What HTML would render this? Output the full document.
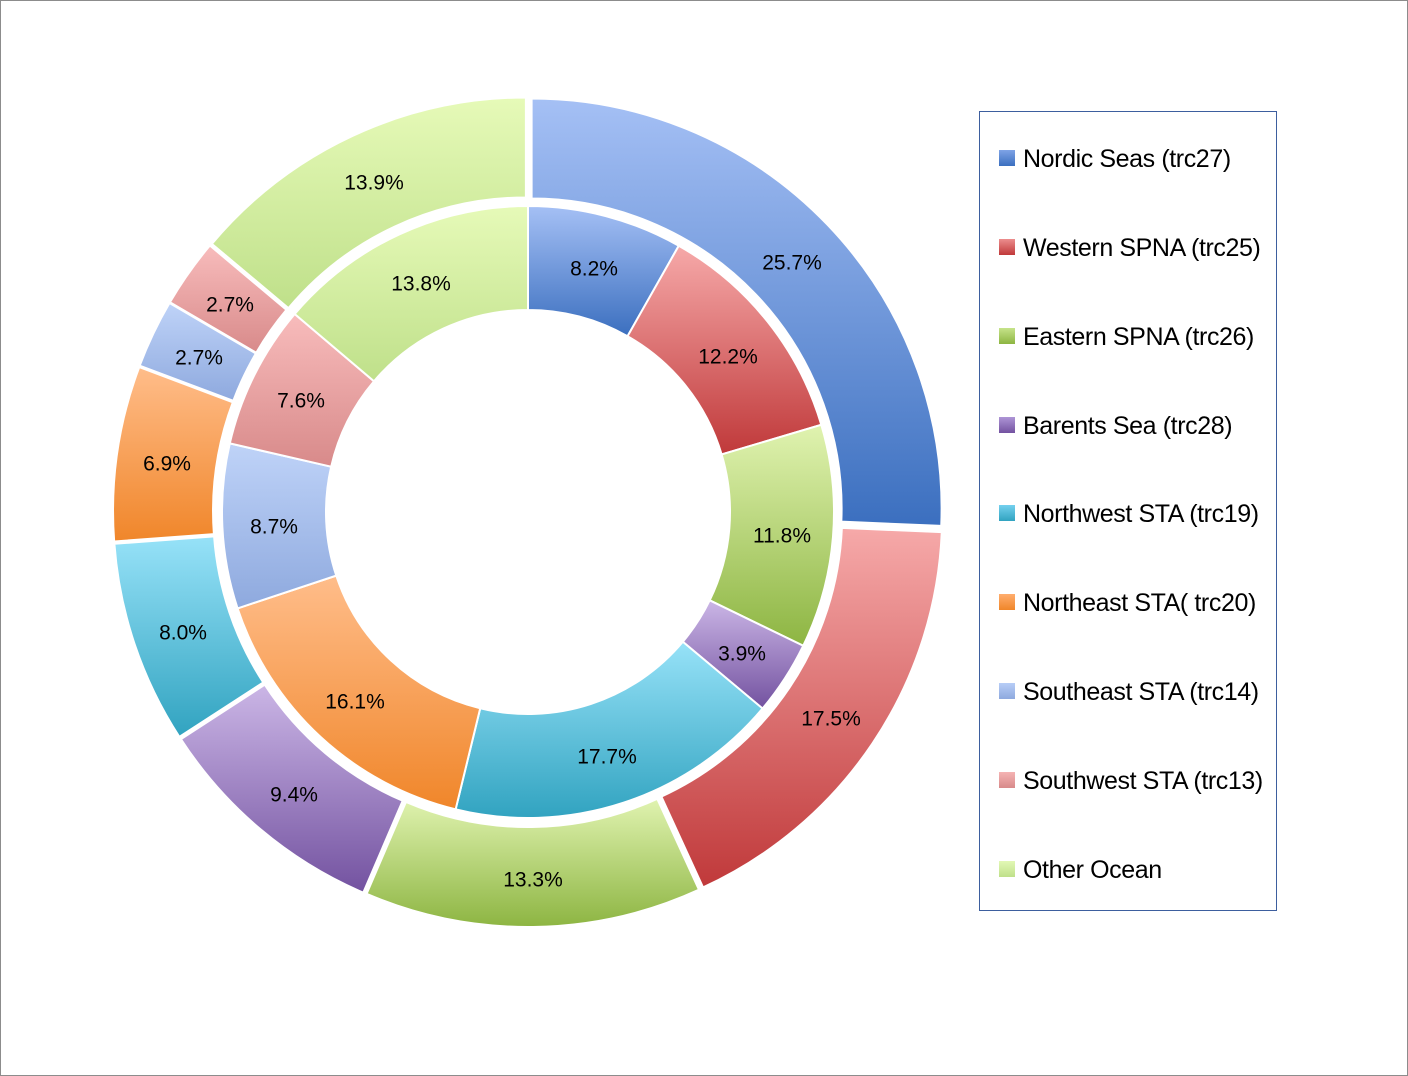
<!DOCTYPE html>
<html><head><meta charset="utf-8"><style>
html,body{margin:0;padding:0;background:#fff}
#wrap{position:relative;width:1406px;height:1074px;border:1px solid #8c8c8c;overflow:hidden}
svg{position:absolute;left:0;top:0}
.lbl{font-family:"Liberation Sans",sans-serif;font-size:21px;fill:#000;text-anchor:middle;dominant-baseline:central}
#legend{position:absolute;left:978px;top:110px;width:298px;height:800px;border:1.5px solid #3d5e9e;box-sizing:border-box}
.li{position:absolute;left:19px;font-family:"Liberation Sans",sans-serif;font-size:25px;letter-spacing:-0.4px;color:#000;white-space:nowrap;line-height:30px}
.li i{display:inline-block;width:16px;height:16px;margin-right:8px;vertical-align:1px}
</style></head><body><div id="wrap">
<svg id="s" width="1408" height="1076" viewBox="0 0 1408 1076">
<defs id="d"></defs>
<g id="g"></g>
<g>
<text class="lbl" x="593" y="268">8.2%</text>
<text class="lbl" x="727" y="356">12.2%</text>
<text class="lbl" x="781" y="535">11.8%</text>
<text class="lbl" x="741" y="653">3.9%</text>
<text class="lbl" x="606" y="756">17.7%</text>
<text class="lbl" x="354" y="701">16.1%</text>
<text class="lbl" x="273" y="526">8.7%</text>
<text class="lbl" x="300" y="400">7.6%</text>
<text class="lbl" x="420" y="283">13.8%</text>
<text class="lbl" x="791" y="262">25.7%</text>
<text class="lbl" x="830" y="718">17.5%</text>
<text class="lbl" x="532" y="879">13.3%</text>
<text class="lbl" x="293" y="794">9.4%</text>
<text class="lbl" x="182" y="632">8.0%</text>
<text class="lbl" x="166" y="463">6.9%</text>
<text class="lbl" x="198" y="357">2.7%</text>
<text class="lbl" x="229" y="304">2.7%</text>
<text class="lbl" x="373" y="182">13.9%</text>
</g>
</svg>
<div id="legend">
<div class="li" style="top:32px"><i style="background:linear-gradient(#7fa3e6,#3b6fbf)"></i>Nordic Seas (trc27)</div>
<div class="li" style="top:121px"><i style="background:linear-gradient(#ec8e8e,#c0393a)"></i>Western SPNA (trc25)</div>
<div class="li" style="top:210px"><i style="background:linear-gradient(#c6e38a,#8db542)"></i>Eastern SPNA (trc26)</div>
<div class="li" style="top:299px"><i style="background:linear-gradient(#ae95d6,#7352a0)"></i>Barents Sea (trc28)</div>
<div class="li" style="top:387px"><i style="background:linear-gradient(#74d0ee,#31a3c0)"></i>Northwest STA (trc19)</div>
<div class="li" style="top:476px"><i style="background:linear-gradient(#ffad6e,#f0862a)"></i>Northeast STA( trc20)</div>
<div class="li" style="top:565px"><i style="background:linear-gradient(#b7cdf7,#8ea9de)"></i>Southeast STA (trc14)</div>
<div class="li" style="top:654px"><i style="background:linear-gradient(#f5b3b3,#d88a8a)"></i>Southwest STA (trc13)</div>
<div class="li" style="top:743px"><i style="background:linear-gradient(#e2f8b5,#bfe08a)"></i>Other Ocean</div>
</div>
</div>
<script>
var cols=[["#a5c0f5","#3b6fbf"],["#f6a9a9","#c0393a"],["#e0f3b0","#8db542"],["#cbb6e6","#7352a0"],["#97e2f8","#31a3c0"],["#ffbd8a","#f0862a"],["#bfd3f8","#8ea9de"],["#f8bcbc","#d88a8a"],["#e6fab8","#bfe08a"]];
var inner=[8.2,12.2,11.8,3.9,17.7,16.1,8.7,7.6,13.8];
var outer=[25.7,17.5,13.3,9.4,8.0,6.9,2.7,2.7,13.9];
var cx=527,cy=511,d=document.getElementById('d'),g=document.getElementById('g'),h='',dh='';
cols.forEach(function(c,i){dh+='<linearGradient id="c'+i+'" x1="0" y1="0" x2="0" y2="1"><stop offset="0" stop-color="'+c[0]+'"/><stop offset="1" stop-color="'+c[1]+'"/></linearGradient>';});
d.innerHTML=dh;
function ring(vals,r0,r1,ex){var tot=vals.reduce(function(a,b){return a+b},0),a=0;
vals.forEach(function(v,i){var a0=a/tot*2*Math.PI,a1=(a+v)/tot*2*Math.PI;a+=v;var m=(a0+a1)/2;
var ox=cx+ex*Math.sin(m),oy=cy-ex*Math.cos(m);
function p(r,t){return (ox+r*Math.sin(t)).toFixed(2)+' '+(oy-r*Math.cos(t)).toFixed(2);}
var lg=(a1-a0)>Math.PI?1:0;
h+='<path d="M'+p(r1,a0)+' A'+r1+' '+r1+' 0 '+lg+' 1 '+p(r1,a1)+' L'+p(r0,a1)+' A'+r0+' '+r0+' 0 '+lg+' 0 '+p(r0,a0)+' Z" fill="url(#c'+i+')" stroke="#fff" stroke-width="2"/>';});}
ring(outer,310,410,5);
ring(inner,202,306,0);
g.innerHTML=h;
</script>
</body></html>
